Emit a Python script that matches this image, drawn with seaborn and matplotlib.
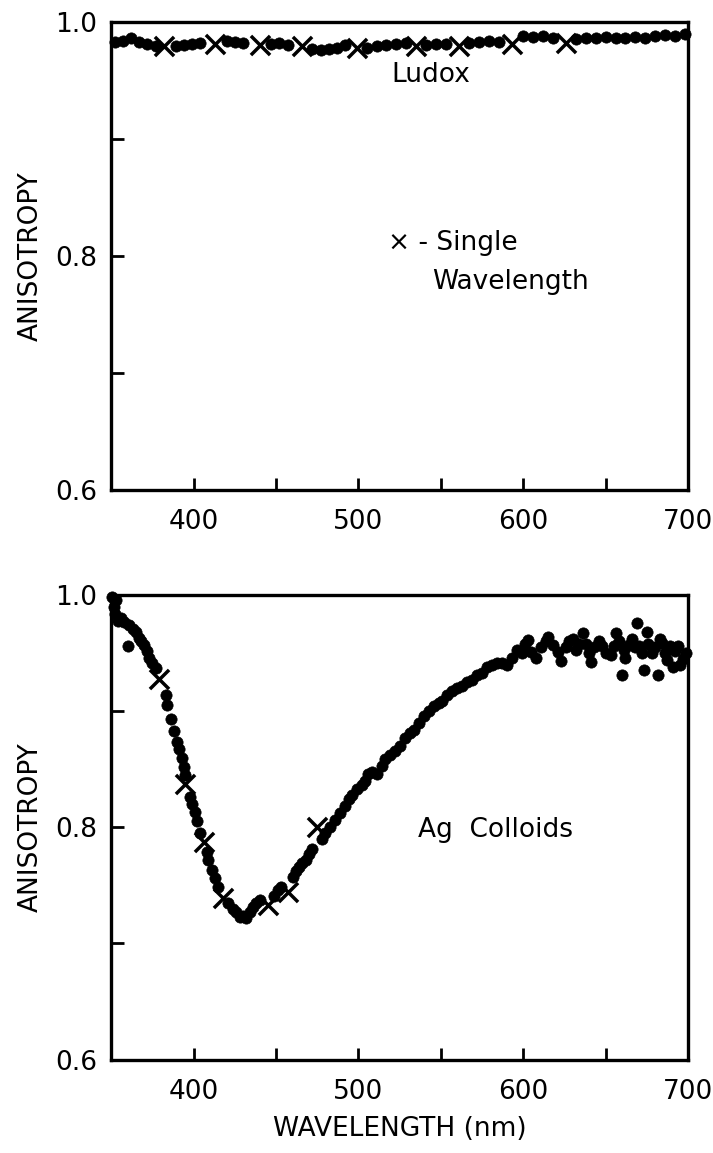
import matplotlib
matplotlib.use("Agg")
import matplotlib.pyplot as plt
import seaborn as sns

# Ludox: continuous scan (dots) and single-wavelength points (crosses)
ludox_wl = [352, 357, 362, 367, 372, 377, 389, 394, 399, 404, 420, 425, 430,
            447, 452, 457, 472, 477, 482, 487, 492, 505, 511, 517, 523, 529,
            541, 547, 553, 567, 573, 579, 585, 600, 606, 612, 618, 632, 638,
            644, 650, 656, 662, 668, 674, 680, 686, 692, 698]
ludox_r = [0.983, 0.984, 0.986, 0.983, 0.981, 0.979, 0.979, 0.980, 0.981, 0.982,
           0.984, 0.983, 0.982, 0.981, 0.982, 0.980, 0.977, 0.976, 0.977, 0.978,
           0.980, 0.978, 0.979, 0.980, 0.981, 0.982, 0.980, 0.981, 0.981, 0.982,
           0.983, 0.984, 0.983, 0.988, 0.987, 0.988, 0.986, 0.985, 0.986, 0.986,
           0.987, 0.986, 0.986, 0.987, 0.986, 0.988, 0.989, 0.988, 0.990]
ludox_single_wl = [382, 413, 440, 466, 499, 535, 561, 593, 626]
ludox_single_r = [0.979, 0.981, 0.980, 0.979, 0.978, 0.979, 0.979, 0.981, 0.982]

# Ag colloids
ag_wl = [350.5, 351.5, 352.5, 353, 354, 356, 358, 360, 361, 363, 365, 367, 368,
         370, 372, 373, 375, 377, 383, 384, 386, 388, 390, 391, 393, 394, 395,
         398, 399, 401, 402, 404, 408, 409, 411, 413, 415, 421, 424, 426, 428,
         430, 432, 434, 436, 438, 440, 449, 451, 453, 460, 462, 464, 466, 468,
         470, 472, 478, 480, 483, 486, 489, 492, 494, 496, 499, 502, 504, 506,
         508, 511, 514, 516, 519, 522, 525, 528, 531, 534, 537, 540, 543, 546,
         549, 551, 554, 557, 560, 563, 566, 569, 572, 575, 578, 581, 584, 587,
         590, 593, 596, 599, 601, 603, 605, 608, 611, 614, 615, 618, 621, 623,
         626, 628, 630, 632, 634, 636, 638, 640, 641, 643, 646, 648, 650, 653,
         655, 656, 658, 660, 661, 662, 664, 666, 668, 669, 670, 672, 673, 675,
         676, 678, 680, 682, 683, 684, 686, 687, 689, 691, 692, 694, 695, 697, 699]
ag_r = [0.998, 0.990, 0.984, 0.996, 0.978, 0.980, 0.977, 0.956, 0.974, 0.971,
        0.968, 0.963, 0.960, 0.957, 0.952, 0.946, 0.941, 0.937, 0.914, 0.905,
        0.893, 0.883, 0.873, 0.867, 0.860, 0.852, 0.845, 0.826, 0.820, 0.813,
        0.805, 0.795, 0.779, 0.772, 0.763, 0.756, 0.749, 0.735, 0.730, 0.727,
        0.723, 0.724, 0.722, 0.727, 0.731, 0.735, 0.737, 0.741, 0.746, 0.749,
        0.757, 0.762, 0.766, 0.769, 0.772, 0.777, 0.781, 0.790, 0.795, 0.800,
        0.806, 0.812, 0.818, 0.824, 0.828, 0.833, 0.836, 0.840, 0.846, 0.848,
        0.846, 0.853, 0.859, 0.862, 0.866, 0.870, 0.877, 0.881, 0.884, 0.890,
        0.896, 0.900, 0.904, 0.907, 0.909, 0.914, 0.917, 0.920, 0.922, 0.925,
        0.927, 0.931, 0.933, 0.938, 0.940, 0.941, 0.941, 0.940, 0.946, 0.953,
        0.950, 0.958, 0.961, 0.951, 0.946, 0.955, 0.960, 0.964, 0.957, 0.951,
        0.943, 0.955, 0.960, 0.962, 0.953, 0.958, 0.967, 0.958, 0.950, 0.942,
        0.955, 0.960, 0.956, 0.950, 0.948, 0.956, 0.967, 0.960, 0.931, 0.953,
        0.946, 0.957, 0.962, 0.955, 0.976, 0.956, 0.950, 0.935, 0.968, 0.958,
        0.950, 0.955, 0.931, 0.962, 0.959, 0.950, 0.944, 0.956, 0.938, 0.952,
        0.956, 0.940, 0.945, 0.950]
ag_single_wl = [379, 395, 406, 418, 445, 457, 475]
ag_single_r = [0.928, 0.837, 0.787, 0.739, 0.733, 0.744, 0.800]

x_ticks = [350, 400, 450, 500, 550, 600, 650, 700]
x_labels = ["", "400", "", "500", "", "600", "", "700"]
y_ticks = [0.6, 0.7, 0.8, 0.9, 1.0]
y_labels = ["0.6", "", "0.8", "", "1.0"]

sns.set_theme(style="white")
plt.rcParams["font.family"] = ["DejaVu Sans"]
plt.rcParams["text.color"] = "black"

fig = plt.figure(figsize=(7.13, 11.53), dpi=100)
ax1 = fig.add_axes([0.156, 0.575, 0.809, 0.406])
ax2 = fig.add_axes([0.156, 0.081, 0.809, 0.403])


def style_axes(ax):
    ax.set_xlim(350, 700)
    ax.set_ylim(0.6, 1.0)
    ax.set_xticks(x_ticks)
    ax.set_xticklabels(x_labels)
    ax.set_yticks(y_ticks)
    ax.set_yticklabels(y_labels)
    ax.tick_params(axis="both", direction="in", length=9, width=2,
                   labelsize=19, color="black", labelcolor="black",
                   bottom=True, left=True, top=False, right=False)
    ax.tick_params(axis="x", pad=14)
    ax.tick_params(axis="y", pad=10)
    for s in ax.spines.values():
        s.set_color("black")
        s.set_linewidth(2.4)
    ax.set_ylabel("ANISOTROPY", fontsize=19, color="black", labelpad=8)


dot_kw = dict(color="black", s=66, edgecolor="black", linewidth=0.5, legend=False)
x_kw = dict(color="black", marker="x", s=190, linewidth=2.5, legend=False)

sns.scatterplot(x=ludox_wl, y=ludox_r, ax=ax1, **dot_kw)
sns.scatterplot(x=ludox_single_wl, y=ludox_single_r, ax=ax1, **x_kw)
style_axes(ax1)
ax1.set_xlabel("")
ax1.text(544, 0.955, "Ludox", fontsize=19, ha="center", va="center")
ax1.text(518, 0.811, "\u00d7 - Single", fontsize=19, ha="left", va="center")
ax1.text(545, 0.778, "Wavelength", fontsize=19, ha="left", va="center")

sns.scatterplot(x=ag_wl, y=ag_r, ax=ax2, **dot_kw)
sns.scatterplot(x=ag_single_wl, y=ag_single_r, ax=ax2, **x_kw)
style_axes(ax2)
ax2.set_xlabel("WAVELENGTH (nm)", fontsize=19, color="black", labelpad=8)
ax2.text(536, 0.798, "Ag  Colloids", fontsize=19, ha="left", va="center")

for ax in (ax1, ax2):
    for c in ax.collections:
        c.set_clip_on(False)

fig.savefig("out.png", dpi=100, facecolor="white")
